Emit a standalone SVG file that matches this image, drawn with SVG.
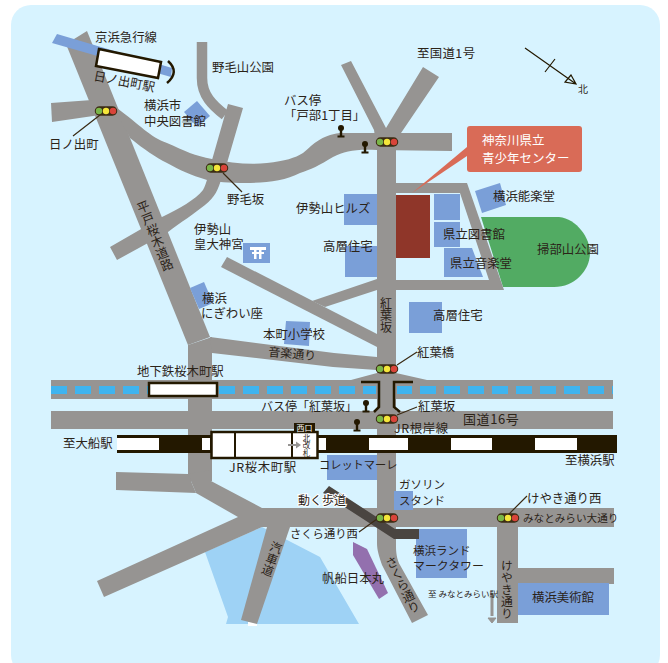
<svg xmlns="http://www.w3.org/2000/svg" width="668" height="663" viewBox="0 0 668 663">
<style>
text{font-family:"Noto Sans CJK JP","Noto Sans",sans-serif;font-size:12.400px;fill:#2b2318}
.s{font-size:11.300px}
.v{writing-mode:vertical-rl}
.r{fill:#969492}
.b{fill:#7a9fd8}
.l{stroke:#3a2a14;stroke-width:1.2;fill:none}
.k{fill:none;stroke:#231800;stroke-width:2.5}
.d{fill:#3fb4ef}
.w{fill:#fff}
</style>
<defs>
<g id="sig"><rect x="-10.5" y="-4" width="21" height="8" rx="4" fill="#3d2c14" stroke="#3d2c14" stroke-width="1.500"/><circle cx="-7" r="3.200" fill="#7ab648"/><circle r="3.200" fill="#f5e63a"/><circle cx="7" r="3.200" fill="#d9443a"/></g>
<g id="bus" fill="#231800"><circle cy="-5" r="3"/><rect x="-1.2" y="-5" width="2.4" height="9"/><rect x="-3.5" y="2.5" width="7" height="2"/></g>
</defs>
<rect x="11" y="5" width="649" height="670" rx="20" fill="#d7f3ff"/>
<g id="water"><polygon points="205,552 228,617 226,624 359,624 320,557 262,527" fill="#9ed2f5"/><rect x="248" y="622" width="9" height="4" fill="#fff"/></g>
<g id="park"><path d="M481,217H559C577,219 590,238 590,253C590,270 575,287 554,287H503Z" fill="#52ab63"/></g>
<g id="roads">
<polygon class="r" points="66,44 87,31 210,337 188,345"/>
<polygon class="r" points="188,345 212,337 212,481 188,481"/>
<polygon class="r" points="210,337 334,353 377,357 377,370 333,367 212,353"/>
<polygon class="r" points="51,103 92,100 100,115 52,122"/>
<path class="r" d="M110,102L117,108C140,125 150,137 167,143C185,151 195,156 212,159C230,163 250,165 267,163C285,161 295,158 303,153C315,143 320,136 340,133L452,133V151L377,150C355,149 345,151 333,157C320,165 310,170 300,173C285,181 265,183 245,183C230,183 215,182 207,180C190,175 180,170 167,163C155,157 145,150 130,138Z"/>
<path class="r" d="M212,160L228,104L243,108L227,163L222,177C218,190 215,197 205,205C195,213 180,223 168,232L117,260L110,247L162,217C180,208 195,200 203,190C207,183 209,172 212,160Z"/>
<path d="M202,42V78C202,95 212,105 225,115" fill="none" stroke="#969492" stroke-width="10.5"/>
<polygon class="r" points="341,65 351,61 386,128 423,67 439,77 401,133 396,150 377,150 374,130"/>
<path class="r" d="M377,140H396V547C396,555 398,562 400,565L428,615L412,623L382,565C379,556 377,550 377,543Z"/>
<path class="r" fill-rule="evenodd" d="M396,183H467L504,290H396ZM396,193V280H489L460,193Z"/>
<polygon class="r" points="227,257 377,334 377,347 221,267"/>
<polygon class="r" points="312,301 377,279 377,290 325,307"/>
<polygon class="r" points="351,380 377,373 396,373 427,380 613,380 613,399 51,399 51,380"/>
<rect class="r" x="51" y="411" width="562" height="18"/>
<polygon class="r" points="116,472 188,474 196,493 116,490"/>
<polygon class="r" points="188,474 211,470 211,481 262,508 614,508 614,527 262,527 104,597 97,581 238,517 196,493"/>
<polygon class="r" points="267,527 241,620 257,624 290,527"/>
<rect class="r" x="497" y="527" width="21" height="96"/>
<rect class="r" x="518" y="568" width="96" height="16"/>
</g>
<g id="dashes" class="d">
<rect x="51" y="386" width="16" height="8"/><rect x="75" y="386" width="16" height="8"/><rect x="99" y="386" width="16" height="8"/><rect x="123" y="386" width="16" height="8"/><rect x="147" y="386" width="16" height="8"/><rect x="219" y="386" width="16" height="8"/><rect x="243" y="386" width="16" height="8"/><rect x="267" y="386" width="16" height="8"/><rect x="291" y="386" width="16" height="8"/><rect x="315" y="386" width="16" height="8"/><rect x="339" y="386" width="16" height="8"/><rect x="363" y="386" width="13" height="8"/><rect x="397" y="386" width="15" height="8"/><rect x="420" y="386" width="16" height="8"/><rect x="444" y="386" width="16" height="8"/><rect x="468" y="386" width="16" height="8"/><rect x="492" y="386" width="16" height="8"/><rect x="516" y="386" width="16" height="8"/><rect x="540" y="386" width="16" height="8"/><rect x="564" y="386" width="16" height="8"/><rect x="588" y="386" width="16" height="8"/><rect x="612" y="386" width="1" height="8"/>
</g>
<g id="brackets"><path class="k" d="M361,382H379V407L374,412"/><path class="k" d="M413,382H394V407L400,412"/></g>
<g id="buildings">
<rect class="b" x="344" y="194" width="33" height="31"/>
<rect class="b" x="434" y="194" width="26" height="26"/>
<rect class="b" x="434" y="222" width="26" height="25"/>
<polygon class="b" points="444,248 472,248 483,277 444,277"/>
<rect class="b" x="345" y="246" width="32" height="31"/>
<rect class="b" x="409" y="302" width="33" height="31"/>
<polygon class="b" points="475,191 500,183 506,205 482,213"/>
<rect x="396" y="195" width="34" height="63" fill="#8f3629"/>
<polygon class="b" points="184,112 197,101 210,116 197,127"/>
<rect class="b" x="243" y="243" width="27" height="20"/>
<path class="w" d="M250,247H266V250H250ZM252,252H264V254H252ZM254,249H256.500V259H254ZM259,249H261.500V259H259Z"/>
<polygon class="b" points="190,288 204,282 213,303 199,309"/>
<polygon class="b" points="286,321 310,322 309,346 284,344"/>
<rect class="b" x="327" y="455" width="50" height="25"/>
<rect class="b" x="394" y="491" width="19" height="19"/>
<rect class="b" x="416" y="529" width="51" height="49"/>
<rect class="b" x="518" y="583" width="91" height="32"/>
<polygon points="353,542 367,549 388,593 379,599 353,555" fill="#9370ae"/>
</g>
<g id="moving-walk"><polygon points="323,493 329,486 395,529 419,529 419,539 394,539" fill="#4a4541"/></g>
<g id="rail">
<rect x="117" y="435" width="500" height="18" fill="#231800"/>
<rect class="w" x="117" y="438" width="42" height="12"/><rect class="w" x="202" y="438" width="8" height="12"/><rect class="w" x="318" y="438" width="8" height="12"/><rect class="w" x="369" y="438" width="39" height="12"/><rect class="w" x="451" y="438" width="41" height="12"/><rect class="w" x="535" y="438" width="42" height="12"/>
</g>
<g id="keikyu">
<polygon points="52,43 57,34 172,68 171,77" fill="#7a9fd8"/>
<polygon points="99,49 161,62 158,78 96,66" fill="#fff" stroke="#231800" stroke-width="2.500"/>
<path d="M168,61Q180,72 167,83" fill="none" stroke="#231800" stroke-width="2.500"/>
</g>
<g id="station-sakuragicho">
<rect class="w" x="211.500" y="432" width="106" height="26" stroke="#231800" stroke-width="2.500"/>
<path d="M235,432V458M292,432V458" stroke="#231800" stroke-width="2"/>
<rect x="294" y="423" width="21" height="9" fill="#231800"/>
<path d="M288,445H298" stroke="#969492" stroke-width="2"/><path d="M296,441.500L301,445L296,448.500Z" fill="#969492"/>
<text x="304.500" y="430.500" text-anchor="middle" style="font-size:8px;fill:#fff">西口</text>
<text class="v" x="306.500" y="434" style="font-size:7.500px">北改札</text>
</g>
<g id="subway-station"><rect class="w" x="149" y="383" width="68" height="13" stroke="#231800" stroke-width="2.500"/></g>
<g id="callout"><polygon points="467,147 467,156 412,193" fill="#d96b57"/><rect x="467" y="126" width="115" height="46" rx="3" fill="#d96b57"/>
<text x="482" y="145" style="font-size:12.500px;fill:#fff">神奈川県立</text><text x="482" y="163" style="font-size:12.500px;fill:#fff">青少年センター</text></g>
<g id="leaders">
<path class="l" d="M100,115L73,136M223,173L242,192M397,365L417,352M397,415L417,407M359,532L377,519M508,515L527,496"/>
</g>
<g id="signals">
<use href="#sig" x="106" y="111"/><use href="#sig" x="217" y="168"/><use href="#sig" x="387" y="142"/><use href="#sig" x="387" y="369"/><use href="#sig" x="387" y="419"/><use href="#sig" x="387" y="518"/><use href="#sig" x="508" y="518"/>
</g>
<g id="bus-stops"><use href="#bus" x="341" y="133"/><use href="#bus" x="365" y="149"/><use href="#bus" x="366" y="408"/><use href="#bus" x="357" y="427"/></g>
<g id="compass"><path d="M525,48L576,84M555,59L545,72M571,75L565,82L576,84Z" fill="none" stroke="#231800" stroke-width="1.200"/></g>
<g id="arrow"><path d="M492,593V616" stroke="#969492" stroke-width="3"/><path d="M488,618H496L492,623Z" fill="#969492" stroke="#969492"/></g>
<g id="labels">
<text x="95" y="42">京浜急行線</text>
<text transform="translate(93,80) rotate(11)">日ノ出町駅</text>
<text x="212" y="72">野毛山公園</text>
<text x="144" y="110">横浜市</text>
<text x="144" y="126">中央図書館</text>
<text x="284" y="105">バス停</text>
<text x="284" y="120">「戸部1丁目」</text>
<text x="49" y="149">日ノ出町</text>
<text x="227" y="204">野毛坂</text>
<text x="194" y="234">伊勢山</text>
<text x="194" y="249">皇大神宮</text>
<text x="417" y="58" style="letter-spacing:.4px">至国道1号</text>
<text x="578" y="93" style="font-size:10px">北</text>
<text x="493" y="201">横浜能楽堂</text>
<text x="296" y="213">伊勢山ヒルズ</text>
<text x="323" y="251">高層住宅</text>
<text x="443" y="239">県立図書館</text>
<text x="450" y="268">県立音楽堂</text>
<text x="537" y="254">掃部山公園</text>
<text x="433" y="320">高層住宅</text>
<text class="v" x="386" y="297" style="font-size:12px">紅葉坂</text>
<text transform="translate(141,201) rotate(-22)" class="v" x="0" y="0" style="font-size:12.500px">平戸桜木道路</text>
<text transform="translate(278,542) rotate(20)" class="v" x="0" y="0" style="font-size:12px">汽車道</text>
<text transform="translate(389,557) rotate(-26)" class="v" x="0" y="0">さくら通り</text>
<text class="v" x="507" y="560" style="font-size:11.800px">けやき通り</text>
<text transform="translate(268,356) rotate(5)" style="font-size:12px">音楽通り</text>
<text x="263" y="339">本町小学校</text>
<text x="202" y="303">横浜</text>
<text x="201" y="318">にぎわい座</text>
<text x="137" y="376">地下鉄桜木町駅</text>
<text x="261" y="411" style="font-size:12px">バス停「紅葉坂」</text>
<text x="417" y="357">紅葉橋</text>
<text x="418" y="411">紅葉坂</text>
<text x="463" y="424" style="font-size:13px;letter-spacing:.6px">国道16号</text>
<text x="394" y="433" style="letter-spacing:.6px">JR根岸線</text>
<text x="63" y="448">至大船駅</text>
<text x="229" y="472" style="letter-spacing:.6px">JR桜木町駅</text>
<text x="565" y="465">至横浜駅</text>
<text x="319" y="469" style="font-size:11.200px">コレットマーレ</text>
<text x="399" y="489" style="font-size:11.500px">ガソリン</text>
<text x="399" y="505" style="font-size:11.500px">スタンド</text>
<text x="527" y="503">けやき通り西</text>
<text x="523" y="522" style="font-size:10.600px">みなとみらい大通り</text>
<text x="298" y="505" style="paint-order:stroke;stroke:#fff;stroke-width:2px;font-size:12px">動く歩道</text>
<text x="290" y="538" class="s">さくら通り西</text>
<text x="322" y="583">帆船日本丸</text>
<text x="413" y="555" style="font-size:11.500px">横浜ランド</text>
<text x="413" y="570" style="font-size:11.900px">マークタワー</text>
<text x="428" y="597" style="font-size:8.500px">至 みなとみらい駅</text>
<text x="532" y="602">横浜美術館</text>
</g>
</svg>
